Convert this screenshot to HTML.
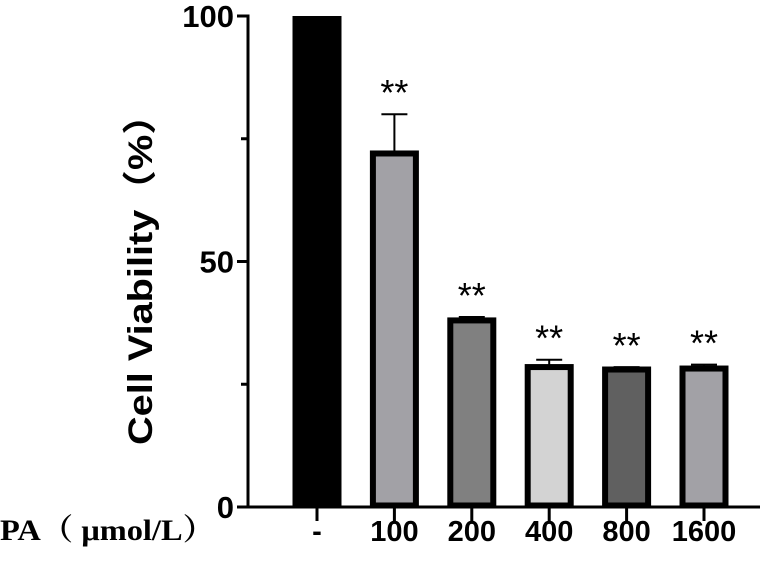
<!DOCTYPE html>
<html><head><meta charset="utf-8"><style>
html,body{margin:0;padding:0;background:#fff;}
svg{display:block;}
</style></head><body>
<svg id="chart" width="762" height="584" viewBox="0 0 762 584" xmlns="http://www.w3.org/2000/svg">
<g id="axes"></g>
<g id="bars"></g>
<text transform="translate(152,270) rotate(-90)" text-anchor="middle" font-family="Liberation Sans, Noto Sans CJK SC, sans-serif" font-weight="bold" font-size="34" textLength="350" lengthAdjust="spacingAndGlyphs">Cell Viability（%）</text>
<text x="0" y="540" font-family="Liberation Serif, Noto Serif CJK SC, serif" font-weight="bold" font-size="30" textLength="215" lengthAdjust="spacingAndGlyphs">PA（ μmol/L）</text>
</svg>
<script>
const categories = ["-", "100", "200", "400", "800", "1600"];
const values = [100, 72, 38, 28.5, 28, 28.2];
const errors = [0, 8, 0.7, 1.5, 0.5, 0.8];
const colors = ["#000000", "#a2a1a6", "#808080", "#d3d3d3", "#606060", "#a2a1a6"];
const sig = ["", "**", "**", "**", "**", "**"];
const yTicks = [0, 50, 100];
const yMinor = [25, 75];

const NS = "http://www.w3.org/2000/svg";
const axisX = 248, y0 = 507, y100 = 16;
const yScale = v => y0 - (y0 - y100) * v / 100;
const firstCenter = 317, step = 77.4, barW = 49;
const xScale = i => firstCenter + i * step;
function mk(tag, attrs, parent) {
  const e = document.createElementNS(NS, tag);
  for (const k in attrs) e.setAttribute(k, attrs[k]);
  parent.appendChild(e);
  return e;
}
const axes = document.getElementById("axes");
const bars = document.getElementById("bars");

let l = mk("line", {x1: axisX, y1: y100 - 1.5, x2: axisX, y2: y0 + 1.5, stroke: "#000", "stroke-width": 3}, axes);


l = mk("line", {x1: axisX - 1.5, y1: y0, x2: 760, y2: y0, stroke: "#000", "stroke-width": 3}, axes);



yTicks.forEach(t => {
  const y = yScale(t);
  const tk = mk("line", {x1: axisX - 11, y1: y, x2: axisX, y2: y, stroke: "#000", "stroke-width": 3}, axes);
  
  
  const tx = mk("text", {x: axisX - 14, y: y + 11, "text-anchor": "end", "font-family": "Liberation Sans, sans-serif", "font-weight": "bold", "font-size": 31}, axes);
  tx.textContent = t;
  
  
});
yMinor.forEach(t => {
  const y = yScale(t);
  const tk = mk("line", {x1: axisX - 7, y1: y, x2: axisX, y2: y, stroke: "#000", "stroke-width": 3}, axes);
  
  
});

categories.forEach((c, i) => {
  const cx = xScale(i);
  const tk = mk("line", {x1: cx, y1: y0, x2: cx, y2: y0 + 14, stroke: "#000", "stroke-width": 3}, axes);
  
  
  const tx = mk("text", {x: cx, y: 541, "text-anchor": "middle", "font-family": "Liberation Sans, sans-serif", "font-weight": "bold", "font-size": 29}, axes);
  tx.textContent = c;
  
  

  const v = values[i], top = yScale(v);
  if (i === 0) {
    const r = mk("rect", {x: cx - barW / 2, y: top, width: barW, height: y0 - top, fill: colors[i]}, bars);
    
    
  } else {
    const sw = 6;
    if (errors[i] > 0) {
      const ye = yScale(v + errors[i]);
      const el = mk("line", {x1: cx, y1: top, x2: cx, y2: ye, stroke: "#000", "stroke-width": 2}, bars);
      
      
      const cap = mk("line", {x1: cx - 13, y1: ye, x2: cx + 13, y2: ye, stroke: "#000", "stroke-width": 2}, bars);
      
      
    }
    const r = mk("rect", {x: cx - barW / 2 + sw / 2, y: top, width: barW - sw, height: y0 - top - 1.5, fill: colors[i], stroke: "#000", "stroke-width": sw}, bars);
    
    
    const s = mk("text", {x: cx, y: yScale(v + errors[i]) + 3, "text-anchor": "middle", "font-family": "Liberation Sans, sans-serif", "font-size": 36}, bars);
    s.textContent = sig[i];
    s.setAttribute('dy', '-12');
    
    
  }
});
</script>
</body></html>
